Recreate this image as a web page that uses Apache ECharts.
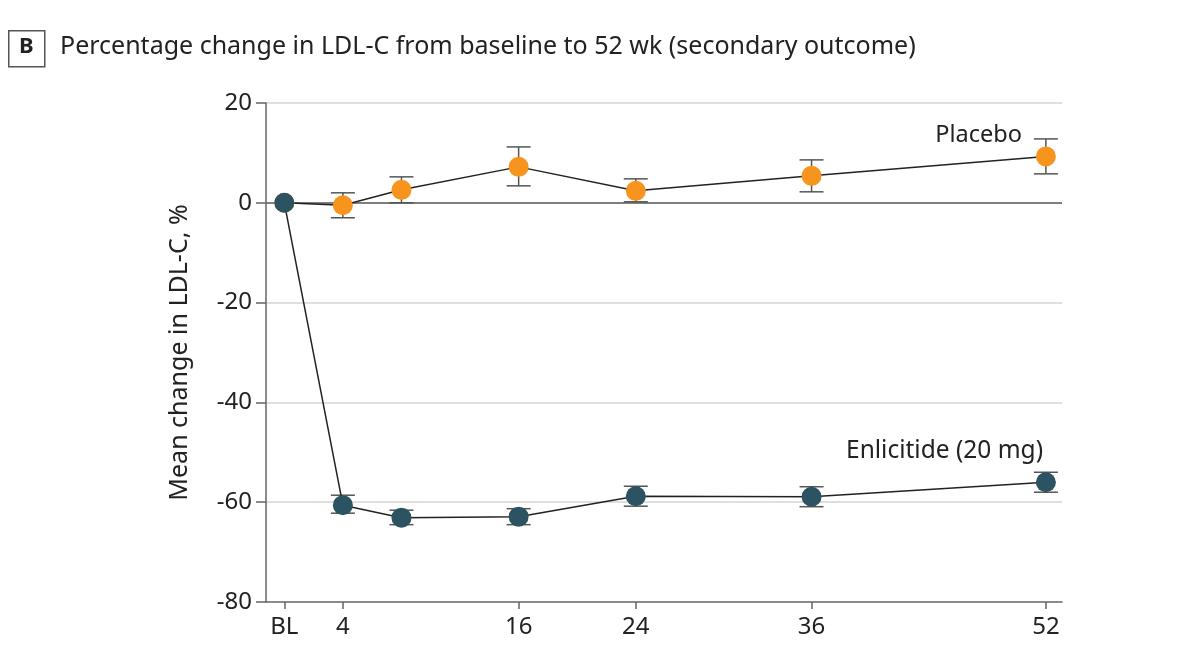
<!DOCTYPE html>
<html>
<head>
<meta charset="utf-8">
<script src="https://cdn.jsdelivr.net/npm/echarts@6/dist/echarts.min.js"></script>
<style>
  html, body { margin: 0; padding: 0; background: #fff; }
  #chart { width: 1202px; height: 652px; }
</style>
</head>
<body>
<div id="chart"></div>
<script>
// weeks (0 = baseline)
const weeks = [0, 4, 8, 16, 24, 36, 52];
const tickWeeks = [0, 4, 16, 24, 36, 52];

// mean % change, with lower / upper error bar ends
const placeboMean = [0, -0.5, 2.6, 7.2, 2.4, 5.4, 9.3];
const placeboLow  = [null, -3.0, 0.0, 3.4, 0.2, 2.2, 5.8];
const placeboHigh = [null, 2.0, 5.2, 11.2, 4.8, 8.6, 12.8];

const enliMean = [0, -60.6, -63.1, -62.9, -58.8, -58.9, -56.0];
const enliLow  = [null, -62.2, -64.5, -64.5, -60.8, -60.9, -58.0];
const enliHigh = [null, -58.6, -61.6, -61.3, -56.8, -56.9, -54.0];

const FONT = 'Noto Sans';
const ORANGE = '#f7941d';
const TEAL = '#2b5361';

const chart = echarts.init(document.getElementById('chart'));

function pairs(xs, ys) { return xs.map((x, i) => [x, ys[i]]); }

function errData(xs, lo, hi) {
  const out = [];
  xs.forEach((x, i) => { if (lo[i] != null) out.push([x, lo[i], hi[i]]); });
  return out;
}

function errorBars(name, data) {
  return {
    name: name,
    type: 'custom',
    z: 1,
    silent: true,
    data: data,
    renderItem: function (params, api) {
      const x = api.value(0);
      const lo = api.coord([x, api.value(1)]);
      const hi = api.coord([x, api.value(2)]);
      const w = 12;
      const style = { stroke: '#555', lineWidth: 1.5 };
      return {
        type: 'group',
        children: [
          { type: 'line', shape: { x1: lo[0], y1: lo[1], x2: hi[0], y2: hi[1] }, style: style },
          { type: 'line', shape: { x1: lo[0] - w, y1: lo[1], x2: lo[0] + w, y2: lo[1] }, style: style },
          { type: 'line', shape: { x1: hi[0] - w, y1: hi[1], x2: hi[0] + w, y2: hi[1] }, style: style }
        ]
      };
    }
  };
}

const option = {
  animation: false,
  textStyle: { fontFamily: FONT },
  grid: { left: 266, right: 140, top: 103, bottom: 50 },
  xAxis: {
    type: 'value',
    min: -1.25,
    max: 53.1,
    axisLine: { onZero: false, lineStyle: { color: '#666', width: 1.5 } },
    axisTick: {
      show: true, length: 7, lineStyle: { color: '#666', width: 1.5 },
      customValues: tickWeeks
    },
    axisLabel: {
      customValues: tickWeeks,
      color: '#222', fontSize: 24, fontFamily: FONT, margin: 13,
      formatter: v => (v === 0 ? 'BL' : String(v))
    },
    splitLine: { show: false }
  },
  yAxis: {
    type: 'value',
    min: -80,
    max: 20,
    interval: 20,
    name: 'Mean change in LDL-C, %',
    nameLocation: 'middle',
    nameGap: 74,
    nameTextStyle: { fontSize: 25, color: '#222', fontFamily: FONT },
    axisLine: { show: true, onZero: false, lineStyle: { color: '#666', width: 1.5 } },
    axisTick: { show: true, length: 10, lineStyle: { color: '#666', width: 1.5 } },
    axisLabel: {
      color: '#222', fontSize: 24, fontFamily: FONT, margin: 14
    },
    splitLine: { show: false }
  },
  graphic: [
    {
      type: 'rect', left: 8, top: 30,
      shape: { width: 36, height: 36 },
      style: { fill: '#fff', stroke: '#555', lineWidth: 1.5 }
    },
    {
      type: 'text', left: 19, top: 36,
      style: { text: 'B', font: 'bold 22px "' + FONT + '"', fill: '#222' }
    },
    {
      type: 'text', left: 60, top: 34,
      style: {
        text: 'Percentage change in LDL-C from baseline to 52 wk (secondary outcome)',
        font: '25px "' + FONT + '"', fill: '#222'
      }
    },
    {
      type: 'text', right: 180, top: 123,
      style: { text: 'Placebo', font: '23.5px "' + FONT + '"', fill: '#222', textAlign: 'right' }
    },
    {
      type: 'text', right: 159, top: 439,
      style: { text: 'Enlicitide (20 mg)', font: '24.5px "' + FONT + '"', fill: '#222', textAlign: 'right' }
    }
  ],
  series: [
    errorBars('Placebo err', errData(weeks, placeboLow, placeboHigh)),
    errorBars('Enlicitide err', errData(weeks, enliLow, enliHigh)),
    {
      name: 'Placebo',
      type: 'line',
      z: 3,
      data: pairs(weeks, placeboMean),
      symbol: 'circle',
      symbolSize: 20,
      lineStyle: { color: '#222', width: 1.5 },
      itemStyle: { color: ORANGE, borderWidth: 0 },
      markLine: {
        silent: true,
        symbol: 'none',
        label: { show: false },
        z: 0,
        data: [
          { yAxis: 20, lineStyle: { color: '#d4d4d4', width: 1.5, type: 'solid' } },
          { yAxis: 0, lineStyle: { color: '#555', width: 1.5, type: 'solid' } },
          { yAxis: -20, lineStyle: { color: '#d4d4d4', width: 1.5, type: 'solid' } },
          { yAxis: -40, lineStyle: { color: '#d4d4d4', width: 1.5, type: 'solid' } },
          { yAxis: -60, lineStyle: { color: '#d4d4d4', width: 1.5, type: 'solid' } }
        ]
      }
    },
    {
      name: 'Enlicitide (20 mg)',
      type: 'line',
      z: 4,
      data: pairs(weeks, enliMean),
      symbol: 'circle',
      symbolSize: 20,
      lineStyle: { color: '#222', width: 1.5 },
      itemStyle: { color: TEAL, borderWidth: 0 }
    }
  ]
};

chart.setOption(option);
</script>
</body>
</html>
